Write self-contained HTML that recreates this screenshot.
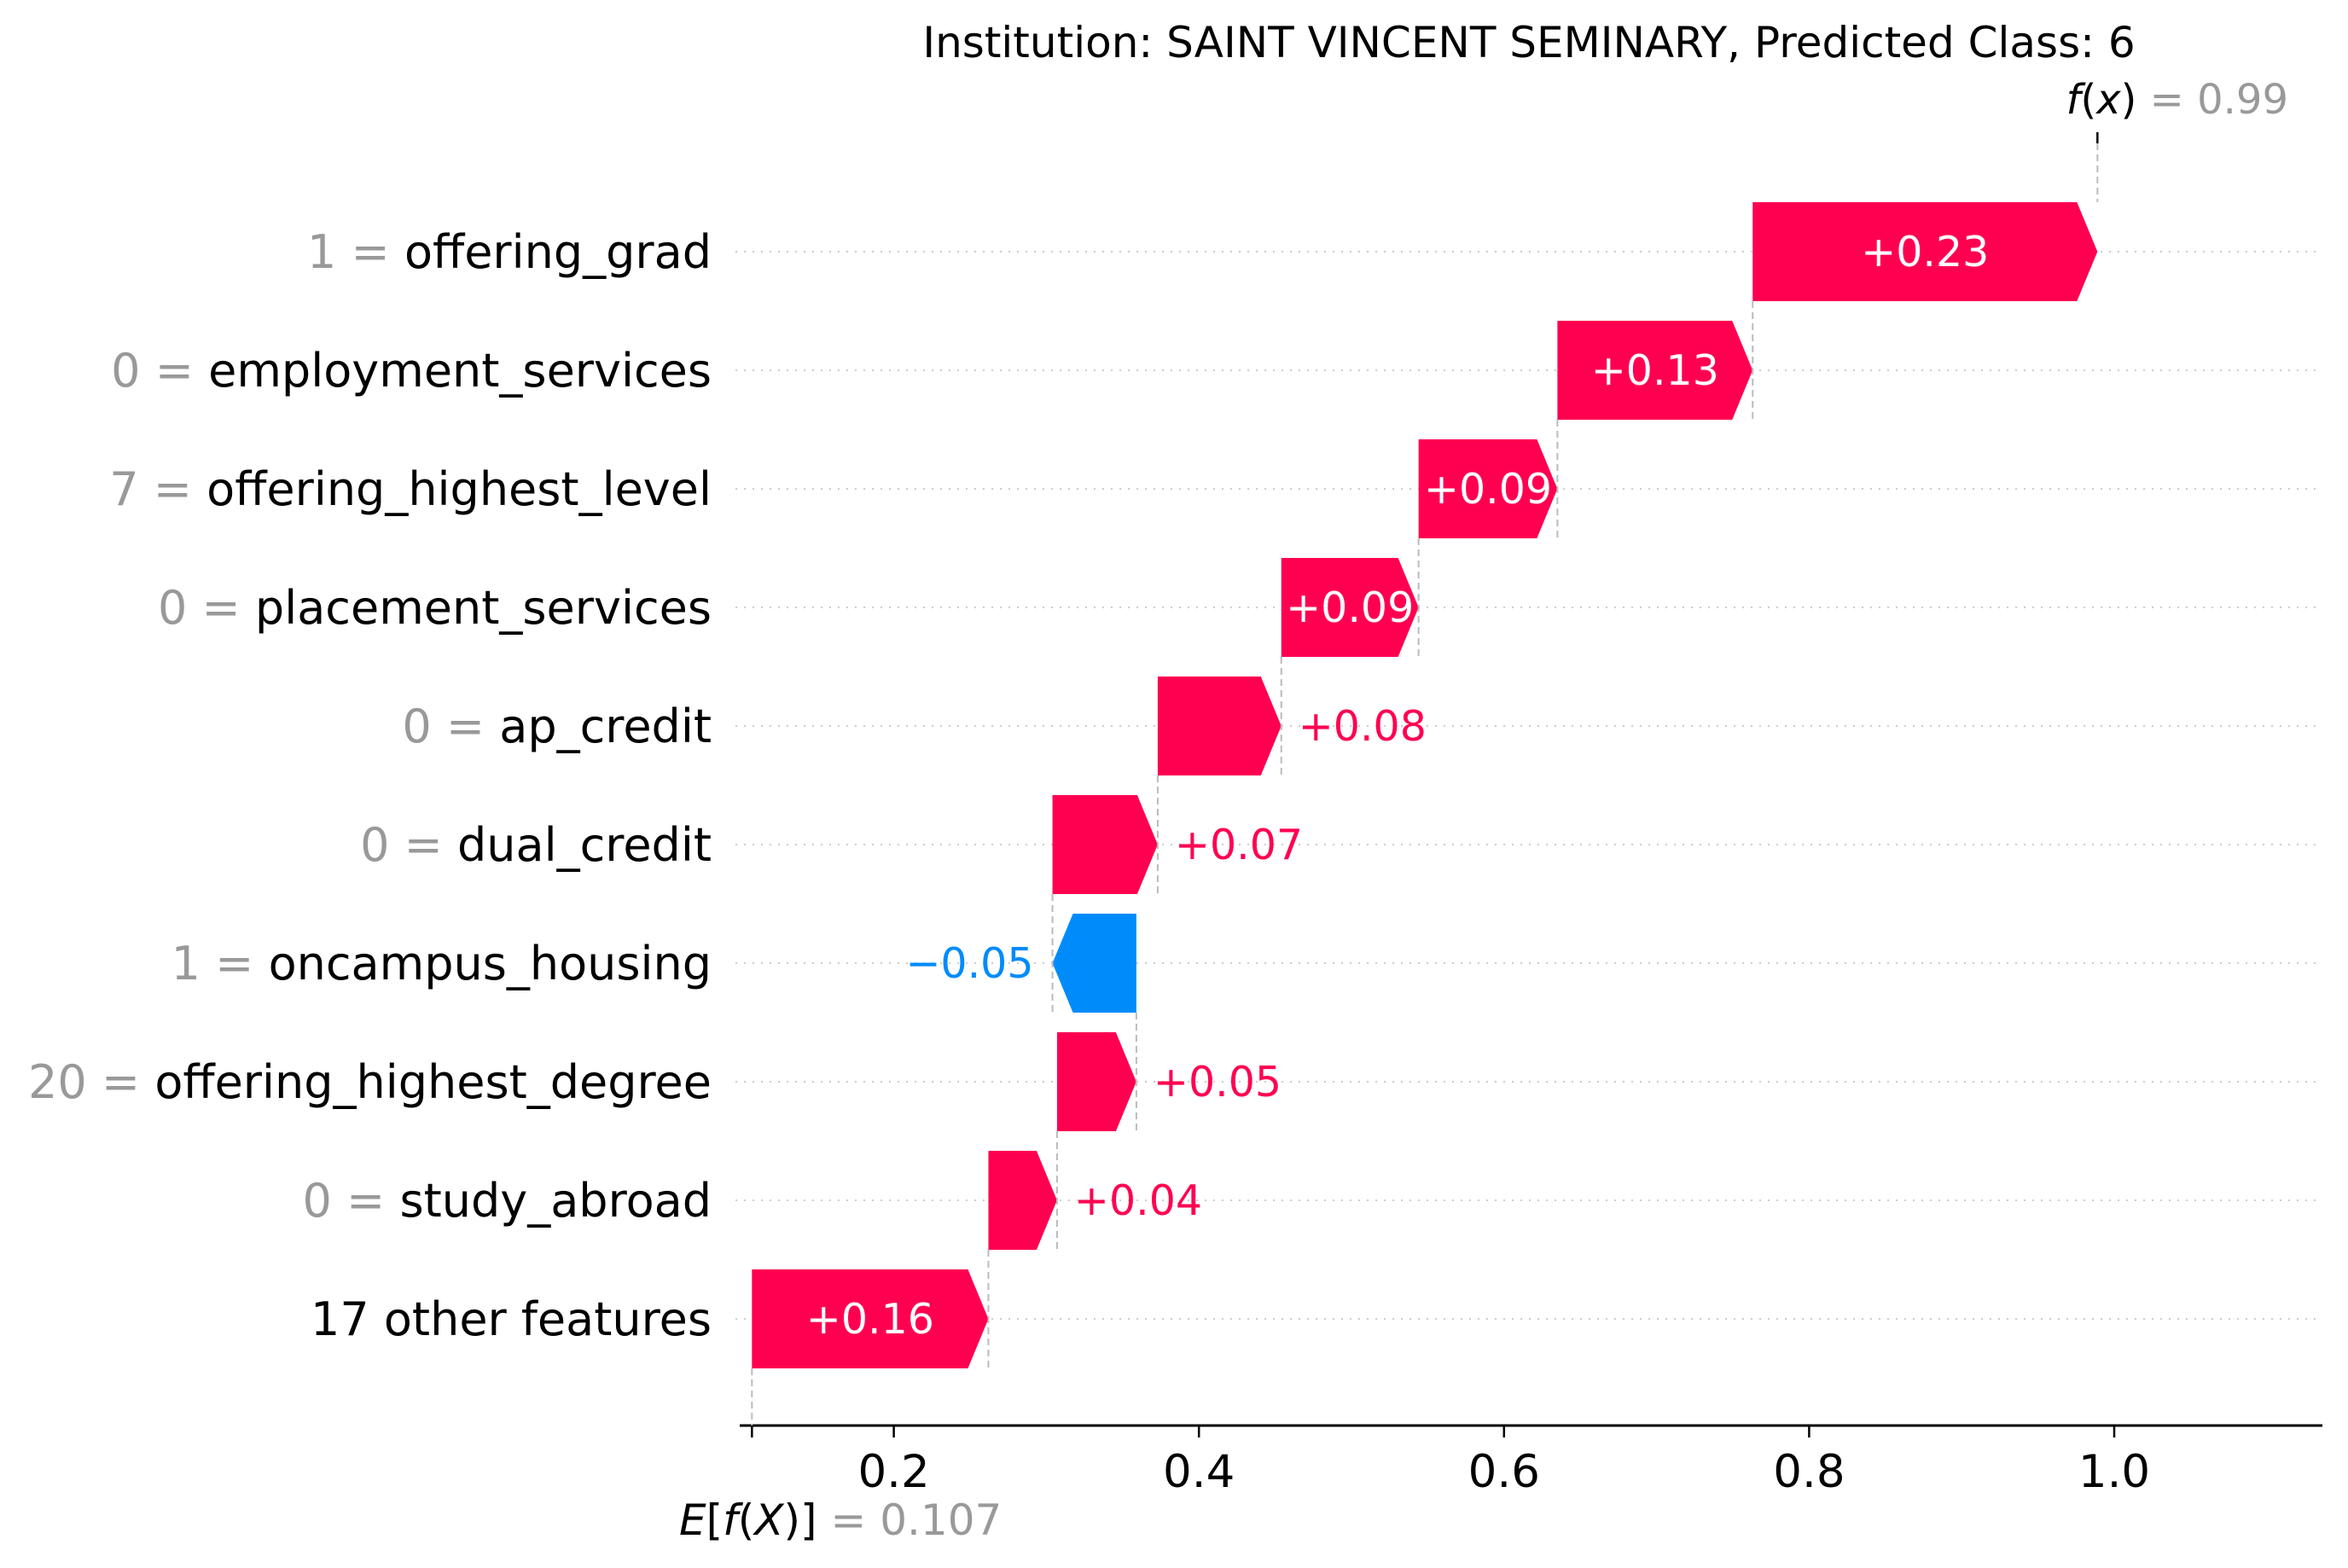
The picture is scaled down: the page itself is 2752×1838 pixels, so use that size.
<!DOCTYPE html>
<html><head><meta charset="utf-8"><style>
html,body{margin:0;padding:0;background:#fff;}
svg{display:block;font-family:"DejaVu Sans","Liberation Sans",sans-serif;}
</style></head><body>
<svg id="chart" width="2752" height="1838" viewBox="0 0 2752 1838" xmlns="http://www.w3.org/2000/svg">
<text x="1792" y="67" font-size="50" text-anchor="middle" fill="#000">Institution: SAINT VINCENT SEMINARY, Predicted Class: 6</text>
<g id="plot"></g>
</svg>
<script>
// data (top row first)
const featureValues = ["1","0","7","0","0","0","1","20","0",""];
const featureNames = ["offering_grad","employment_services","offering_highest_level","placement_services","ap_credit","dual_credit","oncampus_housing","offering_highest_degree","study_abroad","17 other features"];
const shapValues = [0.226,0.128,0.091,0.090,0.081,0.069,-0.055,0.052,0.045,0.155];
const shapLabels = ["+0.23","+0.13","+0.09","+0.09","+0.08","+0.07","\u22120.05","+0.05","+0.04","+0.16"];
const baseValue = 0.107;
const baseLabel = "0.107";
const fxLabel = "0.99";
const xTicks = [0.2,0.4,0.6,0.8,1.0];
const xTickLabels = ["0.2","0.4","0.6","0.8","1.0"];

const NS="http://www.w3.org/2000/svg";
const g=document.getElementById('plot');
const X0=690, PXU=1788;
const x=v=>X0+v*PXU;
const ROW0=295, ROWH=139, BARH=116, HEAD=24, AXY=1671;
const y=i=>ROW0+i*ROWH;
function mk(t,a){const e=document.createElementNS(NS,t);for(const k in a)e.setAttribute(k,a[k]);g.appendChild(e);return e;}
const RED="#ff0051", BLUE="#008bfb";

const n=shapValues.length;
const ends=[]; let cur=baseValue;
for(let i=n-1;i>=0;i--){const s=cur;cur+=shapValues[i];ends[i]=[s,cur];}
const fx=cur;

for(let i=0;i<n;i++){
  const l=mk('line',{x1:862,x2:2722,y1:y(i),y2:y(i),stroke:'#ccc','stroke-width':2,'stroke-dasharray':'2,8'});
  
  
}
const ax=mk('line',{x1:867,x2:2722,y1:AXY,y2:AXY,stroke:'#000','stroke-width':3});


const allTicks=[baseValue].concat(xTicks);
allTicks.forEach((t,k)=>{
  const tk=mk('line',{x1:x(t),x2:x(t),y1:AXY,y2:AXY+14,stroke:'#000','stroke-width':2.5});
  
  
  if(k>0){
    const tl=mk('text',{x:x(t),y:AXY+72,'font-size':53,'text-anchor':'middle',fill:'#000'});
    tl.textContent=xTickLabels[k-1];
    
    
  }
});
const ft=mk('line',{x1:x(fx),x2:x(fx),y1:155,y2:168,stroke:'#000','stroke-width':2.5});


const fl=mk('line',{x1:x(fx),x2:x(fx),y1:168,y2:y(0)-BARH/2,stroke:'#bbb','stroke-width':2,'stroke-dasharray':'8,5'});


const el=mk('line',{x1:x(baseValue),x2:x(baseValue),y1:y(n-1)+BARH/2,y2:AXY,stroke:'#bbb','stroke-width':2,'stroke-dasharray':'8,5'});



for(let i=0;i<n;i++){
  const [s,e]=ends[i]; const v=shapValues[i];
  const yc=y(i), yt=yc-BARH/2, yb=yc+BARH/2;
  const xs=x(s), xe=x(e);
  let pts;
  if(v>=0){const h=Math.min(HEAD,xe-xs);pts=`${xs},${yt} ${xe-h},${yt} ${xe},${yc} ${xe-h},${yb} ${xs},${yb}`;}
  else{const h=Math.min(HEAD,xs-xe);pts=`${xs},${yt} ${xe+h},${yt} ${xe},${yc} ${xe+h},${yb} ${xs},${yb}`;}
  const b=mk('polygon',{points:pts,fill:v>=0?RED:BLUE});
  
  
  if(i>0){
    const c=mk('line',{x1:xe,x2:xe,y1:y(i-1)+BARH/2,y2:yb,stroke:'#bbb','stroke-width':2,'stroke-dasharray':'8,5'});
    
    
  }
  const w=Math.abs(xe-xs);
  let t;
  if(w>150){t=mk('text',{x:(xs+xe)/2,y:yc+17,'font-size':49,'text-anchor':'middle',fill:'#fff'});}
  else if(v>=0){t=mk('text',{x:xe+20,y:yc+17,'font-size':49,'text-anchor':'start',fill:RED});}
  else{t=mk('text',{x:xe-22,y:yc+17,'font-size':49,'text-anchor':'end',fill:BLUE});}
  t.textContent=shapLabels[i];
  
  
  const yl=mk('text',{x:834,y:yc+19,'font-size':54,'text-anchor':'end',fill:'#000'});
  
  
  if(featureValues[i]!==""){
    const sp=document.createElementNS(NS,'tspan');sp.setAttribute('fill','#999');sp.textContent=featureValues[i]+" = ";yl.appendChild(sp);
  }
  const sp2=document.createElementNS(NS,'tspan');sp2.textContent=featureNames[i];yl.appendChild(sp2);
}
const fxt=mk('text',{x:2682,y:133,'font-size':48,'text-anchor':'end',fill:'#000'});


fxt.innerHTML='<tspan font-style="italic">f</tspan>(<tspan font-style="italic">x</tspan>) <tspan fill="#999">= '+fxLabel+'</tspan>';
const et=mk('text',{x:796,y:1799,'font-size':50,'text-anchor':'start',fill:'#000'});


et.innerHTML='<tspan font-style="italic">E</tspan>[<tspan font-style="italic">f</tspan>(<tspan font-style="italic">X</tspan>)] <tspan fill="#999">= '+baseLabel+'</tspan>';
</script>
</body></html>
